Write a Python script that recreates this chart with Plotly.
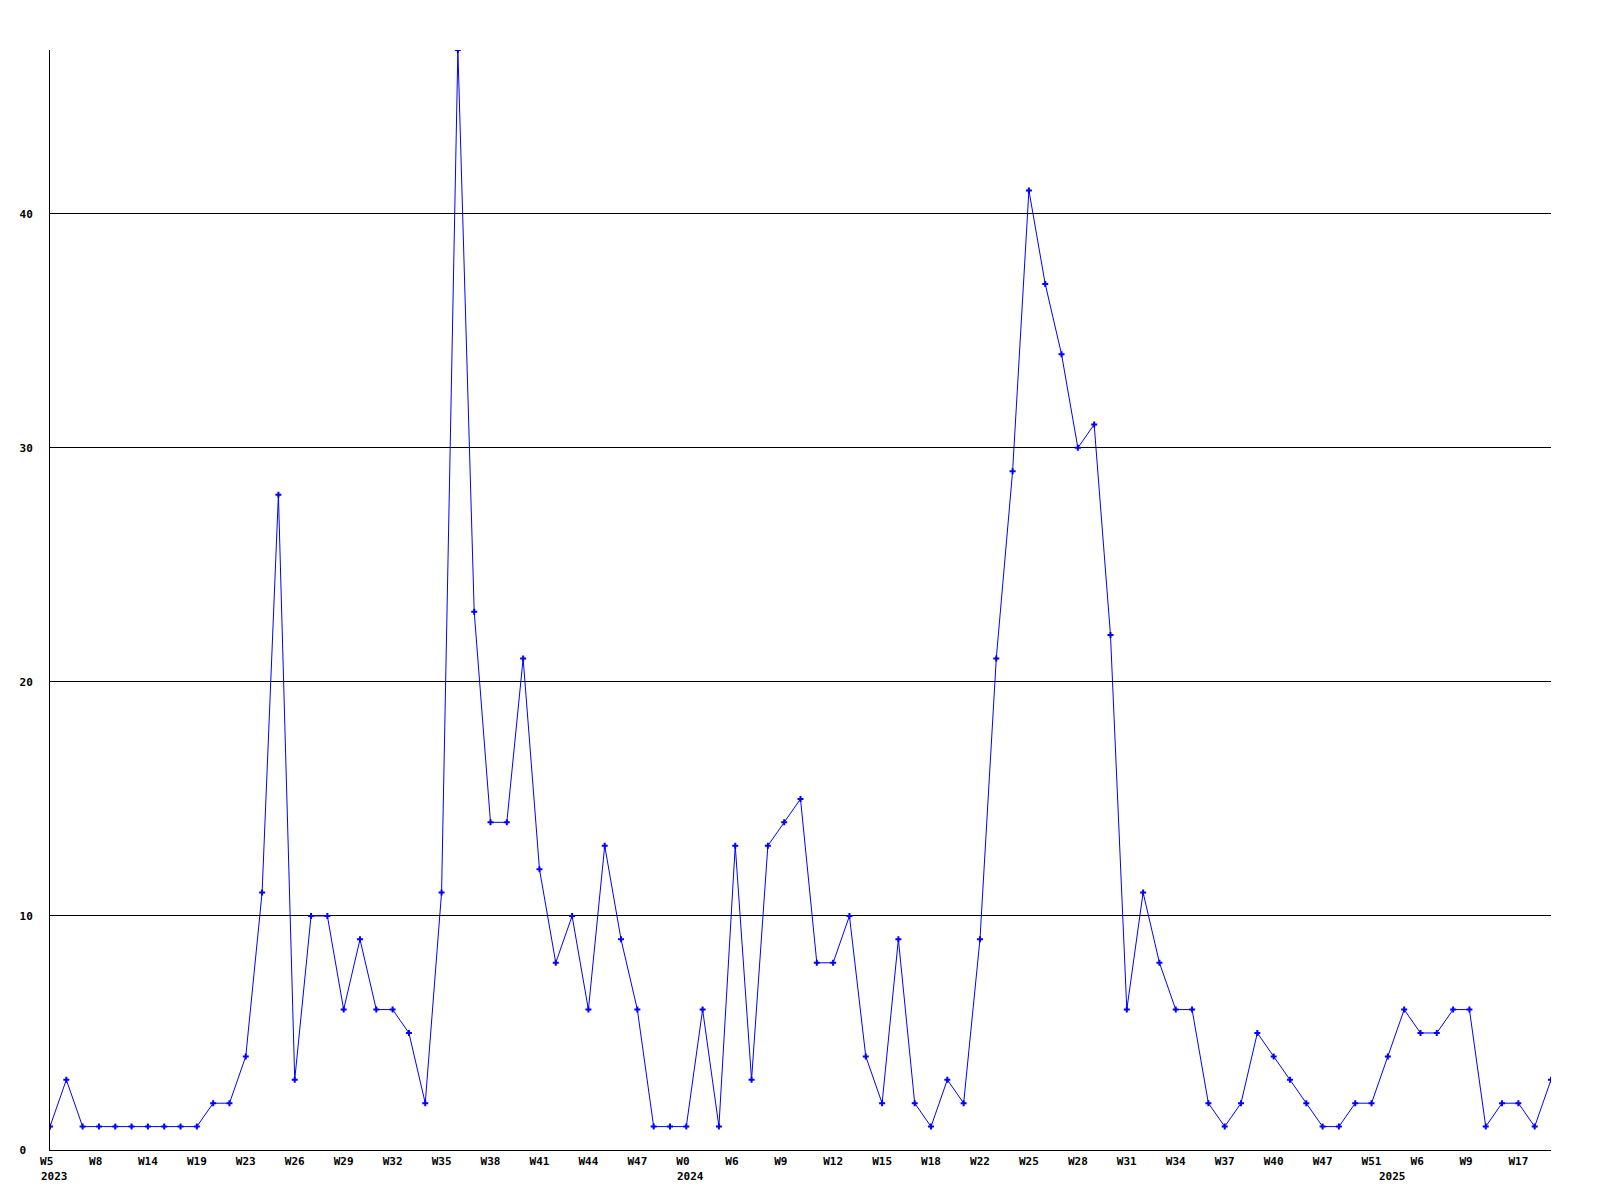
import plotly.graph_objects as go

# Weekly counts, one per point (93 points)
values = [1, 3, 1, 1, 1, 1, 1, 1, 1, 1,
          2, 2, 4, 11, 28, 3, 10, 10, 6, 9,
          6, 6, 5, 2, 11, 47, 23, 14, 14, 21,
          12, 8, 10, 6, 13, 9, 6, 1, 1, 1,
          6, 1, 13, 3, 13, 14, 15, 8, 8, 10,
          4, 2, 9, 2, 1, 3, 2, 9, 21, 29,
          41, 37, 34, 30, 31, 22, 6, 11, 8, 6,
          6, 2, 1, 2, 5, 4, 3, 2, 1, 1,
          2, 2, 4, 6, 5, 5, 6, 6, 1, 2,
          2, 1, 3]

# Week labels shown on every third point
week_labels = ["W5", "W8", "W14", "W19", "W23", "W26", "W29", "W32", "W35", "W38",
               "W41", "W44", "W47", "W0", "W6", "W9", "W12", "W15", "W18", "W22",
               "W25", "W28", "W31", "W34", "W37", "W40", "W47", "W51", "W6", "W9", "W17"]
label_step = 3

# Year markers: (point index, year)
year_points = [0, 39, 82]
year_labels = ["2023", "2024", "2025"]

y_ticks = [0, 10, 20, 30, 40]
y_max = 47

FONT = "DejaVu Sans Mono"
NBSP = "\u00a0"

n = len(values)
xs = list(range(n))
tickvals = [i * label_step for i in range(len(week_labels))]
ticktext = [lab.ljust(3, NBSP) for lab in week_labels]

fig = go.Figure(
    go.Scatter(
        x=xs, y=values,
        mode="lines+markers",
        line=dict(color="#0000ff", width=1),
        marker=dict(symbol="cross", size=5, color="#0000ff"),
        hoverinfo="x+y",
    )
)

for idx, yr in zip(year_points, year_labels):
    fig.add_annotation(
        x=idx, xref="x", y=0, yref="paper",
        text=yr, showarrow=False,
        xanchor="left", yanchor="top",
        xshift=-11, yshift=-18,
        font=dict(family=FONT, size=11, color="black", weight="bold"),
    )

# The page body adds an 8px margin, so the figure is sized/offset to compensate
fig.update_layout(
    width=1584, height=1184,
    margin=dict(l=42, r=41, t=42, b=42, pad=0),
    paper_bgcolor="white", plot_bgcolor="white",
    showlegend=False,
    xaxis=dict(
        range=[0, n - 1],
        tickmode="array", tickvals=tickvals, ticktext=ticktext,
        showgrid=False, zeroline=False,
        showline=True, linecolor="black", linewidth=1,
        ticks="", ticklabelstandoff=1,
        tickfont=dict(family=FONT, size=11, color="black", weight="bold"),
    ),
    yaxis=dict(
        range=[0, y_max],
        tickmode="array", tickvals=y_ticks,
        ticktext=[str(v).ljust(2, NBSP) for v in y_ticks],
        showgrid=True, gridcolor="black", gridwidth=1,
        zeroline=False,
        showline=True, linecolor="black", linewidth=1,
        ticks="", ticklabelstandoff=14,
        tickfont=dict(family=FONT, size=11, color="black", weight="bold"),
    ),
)

fig.write_html("out.html")
